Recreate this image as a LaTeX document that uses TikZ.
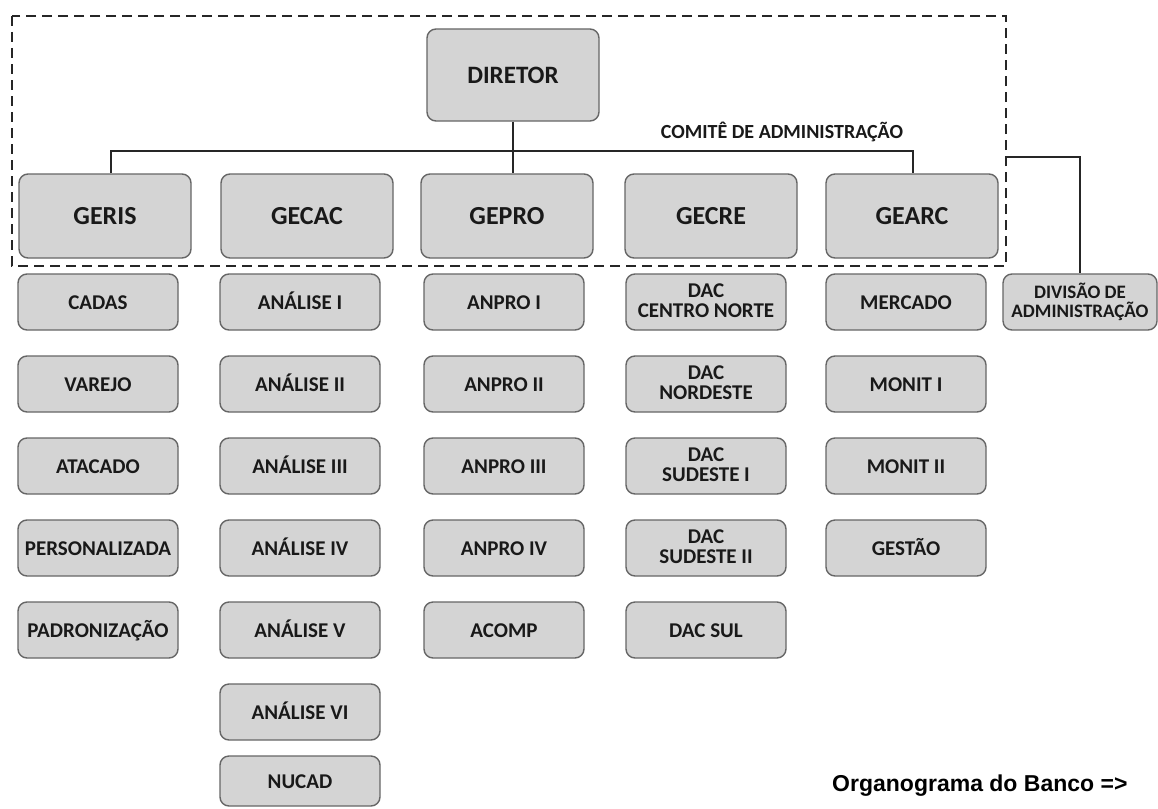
\documentclass[tikz,border=0pt]{standalone}
\usepackage{fontspec}
\setmainfont{Carlito}
\newfontfamily\arialfont{Liberation Sans}
\begin{document}
\begin{tikzpicture}[x=1pt,y=-1pt,
  box/.style={draw=black!60, fill=black!17, rounded corners=9pt, line width=1.4pt,
    align=center, inner sep=0pt, font=\bfseries\fontsize{21}{20}\selectfont, text=black!90,
    execute at begin node={\vphantom{ÁÇ}}},
  topbox/.style={box, minimum width=172pt, minimum height=84pt, font=\bfseries\fontsize{26}{26}\selectfont},
  subbox/.style={box, minimum width=160pt, minimum height=56pt},
  conn/.style={line width=1.8pt, black!85}]
\useasboundingbox (0,0) rectangle (1158,808);
\fill[white] (0,0) rectangle (1158,808);
% committee frame
\draw[line width=1.8pt, dash pattern=on 10pt off 6pt, black!85] (12,16) rectangle (1006,266);
\coordinate (frameR) at (1006,157);
% director and managers
\node[box, minimum width=172pt, minimum height=92pt, font=\bfseries\fontsize{25}{25}\selectfont] (dir) at (513,75) {DIRETOR};
\node[topbox] (geris) at (105,216) {GERIS};
\node[topbox] (gecac) at (307,216) {GECAC};
\node[topbox] (gepro) at (507,216) {GEPRO};
\node[topbox] (gecre) at (711,216) {GECRE};
\node[topbox] (gearc) at (912,216) {GEARC};
\node[font=\bfseries\fontsize{20}{20}\selectfont, text=black!90] (comite) at (782,132) {COMITÊ DE ADMINISTRAÇÃO};
% connectors
\draw[conn] (dir.south) -- (dir.south |- gepro.north);
\draw[conn] ([xshift=6pt]geris.north) -- ++(0,-22) -| ([xshift=1pt]gearc.north);
% sub units
\node[subbox] (cadas) at (98,302) {CADAS};
\node[subbox] (varejo) at (98,384) {VAREJO};
\node[subbox] (atacado) at (98,466) {ATACADO};
\node[subbox] (person) at (98,548) {PERSONALIZADA};
\node[subbox] (padron) at (98,630) {PADRONIZAÇÃO};
\node[subbox] (an1) at (300,302) {ANÁLISE I};
\node[subbox] (an2) at (300,384) {ANÁLISE II};
\node[subbox] (an3) at (300,466) {ANÁLISE III};
\node[subbox] (an4) at (300,548) {ANÁLISE IV};
\node[subbox] (an5) at (300,630) {ANÁLISE V};
\node[subbox] (an6) at (300,712) {ANÁLISE VI};
\node[subbox, minimum height=50pt] (nucad) at (300,781) {NUCAD};
\node[subbox] (ap1) at (504,302) {ANPRO I};
\node[subbox] (ap2) at (504,384) {ANPRO II};
\node[subbox] (ap3) at (504,466) {ANPRO III};
\node[subbox] (ap4) at (504,548) {ANPRO IV};
\node[subbox] (acomp) at (504,630) {ACOMP};
\node[subbox] (dac1) at (706,302) {DAC\\CENTRO NORTE};
\node[subbox] (dac2) at (706,384) {DAC\\NORDESTE};
\node[subbox] (dac3) at (706,466) {DAC\\SUDESTE I};
\node[subbox] (dac4) at (706,548) {DAC\\SUDESTE II};
\node[subbox] (dac5) at (706,630) {DAC SUL};
\node[subbox] (merc) at (906,302) {MERCADO};
\node[subbox] (mon1) at (906,384) {MONIT I};
\node[subbox] (mon2) at (906,466) {MONIT II};
\node[subbox] (gest) at (906,548) {GESTÃO};
\node[subbox, minimum width=154pt, font=\bfseries\fontsize{19}{19}\selectfont] (div) at (1080,302) {DIVISÃO DE\\ADMINISTRAÇÃO};
\draw[conn] (frameR) -| (div.north);
% caption
\node[font=\arialfont\bfseries\fontsize{23}{23}\selectfont, anchor=east] (caption) at (1131,786) {Organograma do Banco =>};
\end{tikzpicture}
\end{document}
